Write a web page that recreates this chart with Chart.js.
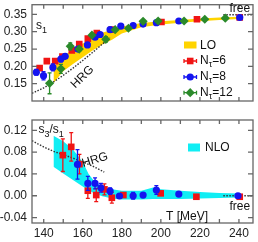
<!DOCTYPE html>
<html>
<head>
<meta charset="utf-8">
<script src="https://cdn.jsdelivr.net/npm/chart.js@4.4.1/dist/chart.umd.min.js"></script>
<style>
  html, body { margin: 0; padding: 0; background: #fff; }
  #wrap { position: relative; width: 258px; height: 242px; }
  #wrap canvas { position: absolute; left: 0; top: 0; }
</style>
</head>
<body>
<div id="wrap">
  <canvas id="topChart" width="258" height="242"></canvas>
  <canvas id="bottomChart" width="258" height="242"></canvas>
</div>
<script>
// --- axes ---
const xTickLabels = [140, 160, 180, 200, 220, 240];
const xMinorTicks = [140, 150, 160, 170, 180, 190, 200, 210, 220, 230, 240];
const s1Ticks = [0.15, 0.20, 0.25, 0.30, 0.35];
const ratioTicks = [-0.04, 0.00, 0.04, 0.08, 0.12];

// --- top panel: s1 ---
const tN6 = [137.9, 141.6, 145.9, 149.6, 154.4, 158.2, 162.6, 167.2, 174.9, 200.3, 218.5, 240.4];
const s1N6 = [0.195, 0.215, 0.215, 0.228, 0.246, 0.264, 0.280, 0.296, 0.306, 0.328, 0.336, 0.341];
const s1N6err = [0.006, 0.004, 0.004, 0.004, 0.005, 0.004, 0.004, 0.004, 0.004, 0.003, 0.003, 0.003];

const tN8 = [136.2, 139.9, 144.7, 148.8, 151.0, 157.5, 162.4, 166.3, 168.9, 174.0, 179.5, 185.8, 190.9, 197.7, 209.2, 240.4];
const s1N8 = [0.183, 0.173, 0.197, 0.221, 0.229, 0.250, 0.262, 0.284, 0.292, 0.306, 0.316, 0.318, 0.322, 0.326, 0.331, 0.341];
const s1N8err = [0.008, 0.012, 0.010, 0.008, 0.006, 0.005, 0.004, 0.004, 0.004, 0.003, 0.003, 0.003, 0.003, 0.003, 0.003, 0.003];

const tN12 = [143.0, 148.8, 153.6, 158.2, 164.7, 171.8, 176.6, 183.4, 190.9, 198.6, 211.9, 222.5, 233.0];
const s1N12 = [0.151, 0.193, 0.258, 0.250, 0.290, 0.278, 0.306, 0.310, 0.330, 0.331, 0.331, 0.336, 0.339];
const s1N12err = [0.030, 0.013, 0.010, 0.006, 0.005, 0.008, 0.004, 0.004, 0.004, 0.003, 0.003, 0.003, 0.003];

const loT = [145, 150, 155, 160, 165, 170, 175, 180, 190, 200, 210, 220, 230, 240];
const loUpper = [0.198, 0.228, 0.250, 0.266, 0.283, 0.297, 0.306, 0.315, 0.325, 0.330, 0.334, 0.338, 0.341, 0.343];
const loLower = [0.152, 0.186, 0.207, 0.226, 0.246, 0.263, 0.277, 0.295, 0.313, 0.321, 0.326, 0.330, 0.334, 0.337];

const hrgT1 = [134, 140, 145, 150, 155, 160, 165, 170, 174];
const hrgS1 = [0.122, 0.138, 0.155, 0.174, 0.195, 0.217, 0.240, 0.264, 0.283];

const freeT = [232, 247.2];
const freeS1 = [0.349, 0.349];
const freeRatio = [0, 0];

// --- bottom panel: s3/s1 ---
const tN6b = [149.8, 154.1, 158.3, 162.6, 166.9, 171.1, 174.9, 180.8, 199.9, 218.2, 240.4];
const ratioN6 = [0.0745, 0.0897, 0.058, 0.0092, 0.0013, 0.0117, -0.0037, 0.0013, 0.0044, -0.0018, -0.0018];
const ratioN6err = [0.030, 0.026, 0.018, 0.014, 0.012, 0.010, 0.010, 0.004, 0.003, 0.003, 0.002];

const tN8b = [157.3, 162.6, 166.3, 169.3, 174.0, 178.8, 185.8, 190.9, 197.7, 209.2, 239.5];
const ratioN8 = [0.0575, 0.0227, 0.0227, 0.0147, 0.0086, -0.0005, 0.0, 0.0013, 0.0104, 0.0031, 0.0];
const ratioN8err = [0.027, 0.013, 0.010, 0.008, 0.006, 0.004, 0.006, 0.004, 0.008, 0.004, 0.003];

const nloT = [145, 150, 155, 160, 163, 166, 170, 175, 180, 190, 196, 200, 210, 220, 230, 240];
const nloUpper = [0.110, 0.100, 0.085, 0.062, 0.040, 0.026, 0.017, 0.012, 0.009, 0.009, 0.015, 0.012, 0.009, 0.007, 0.005, 0.004];
const nloLower = [0.053, 0.041, 0.029, 0.017, 0.010, 0.004, -0.001, -0.005, -0.007, -0.007, -0.006, -0.006, -0.006, -0.005, -0.004, -0.003];

const hrgT2 = [134, 140, 145, 150, 155, 160, 165, 171];
const hrgRatio = [0.101, 0.0895, 0.0815, 0.0755, 0.069, 0.062, 0.0545, 0.0435];

const RED = '#f01414', BLUE = '#1414f0', GREEN = '#2a8a2a';
const YELLOW = '#ffd400', CYAN = '#10eef4';
const FONT = '"Liberation Sans", Arial, sans-serif';

const pts = (xs, ys) => xs.map((x, i) => ({ x: x, y: ys[i] }));

function marker(ctx, style, x, y, color) {
    ctx.fillStyle = color;
    ctx.beginPath();
    if (style === 'rect') ctx.rect(x - 3.3, y - 3.3, 6.6, 6.6);
    else if (style === 'circle') ctx.arc(x, y, 3.6, 0, Math.PI * 2);
    else { ctx.moveTo(x, y - 4.6); ctx.lineTo(x + 4.6, y); ctx.lineTo(x, y + 4.6); ctx.lineTo(x - 4.6, y); ctx.closePath(); }
    ctx.fill();
}

// text with subscripts: parts = [[text, sub?], ...]
function subText(ctx, parts, x, y) {
    for (const [txt, sub] of parts) {
        ctx.font = (sub ? '9px ' : '12px ') + FONT;
        ctx.fillText(txt, x, sub ? y + 3.5 : y);
        x += ctx.measureText(txt).width;
    }
}

// error bars are drawn just before their own dataset
const errorBars = {
    id: 'errorBars',
    beforeDatasetDraw(chart, args) {
        const ds = chart.data.datasets[args.index];
        if (!ds.errors) return;
        const ctx = chart.ctx, y = chart.scales.y;
        ctx.save();
        ctx.strokeStyle = ds.backgroundColor;
        ctx.lineWidth = 1.3;
        ctx.beginPath();
        args.meta.data.forEach((p, i) => {
            const v = ds.data[i].y, e = ds.errors[i];
            const y1 = y.getPixelForValue(v + e), y2 = y.getPixelForValue(v - e);
            ctx.moveTo(p.x, y1); ctx.lineTo(p.x, y2);
            ctx.moveTo(p.x - 2, y1); ctx.lineTo(p.x + 2, y1);
            ctx.moveTo(p.x - 2, y2); ctx.lineTo(p.x + 2, y2);
        });
        ctx.stroke();
        ctx.restore();
    }
};

// gnuplot-like frame with inward ticks
const frame = {
    id: 'frame',
    afterDraw(chart, args, opts) {
        const { ctx, chartArea: a } = chart;
        const x = chart.scales.x, y = chart.scales.y;
        ctx.save();
        ctx.strokeStyle = '#666';
        ctx.lineWidth = 1.3;
        ctx.beginPath();
        xMinorTicks.forEach(t => {
            const px = x.getPixelForValue(t);
            ctx.moveTo(px, a.top); ctx.lineTo(px, a.top + 4);
            ctx.moveTo(px, a.bottom); ctx.lineTo(px, a.bottom - 4);
        });
        opts.yTicks.forEach(v => {
            const py = y.getPixelForValue(v);
            ctx.moveTo(a.left, py); ctx.lineTo(a.left + 5, py);
            ctx.moveTo(a.right, py); ctx.lineTo(a.right - 5, py);
        });
        ctx.stroke();
        ctx.strokeRect(a.left, a.top, a.right - a.left, a.bottom - a.top);
        ctx.restore();
    }
};

function yScale(min, max, ticks) {
    return {
        min: min, max: max,
        afterBuildTicks: s => { s.ticks = ticks.map(v => ({ value: v })); },
        afterFit: s => { s.width = 32; s.paddingTop = 0; s.paddingBottom = 0; },
        grid: { display: false, drawTicks: false },
        border: { display: false },
        ticks: { padding: 5, color: '#222', font: { family: FONT, size: 12 },
                 callback: v => v.toFixed(2) }
    };
}

function xScale(show) {
    return {
        type: 'linear', min: 134, max: 247.2, display: show,
        afterBuildTicks: s => { s.ticks = xTickLabels.map(v => ({ value: v })); },
        afterFit: s => { s.height = 19; s.paddingLeft = 0; s.paddingRight = 0; },
        grid: { display: false, drawTicks: false },
        border: { display: false },
        ticks: { padding: 3, color: '#222', font: { family: FONT, size: 12 }, maxRotation: 0 }
    };
}

const common = {
    responsive: false,
    animation: false,
    events: [],
    plugins: { legend: { display: false }, tooltip: { enabled: false } }
};

const lineDs = (xs, ys, extra) => Object.assign({
    data: pts(xs, ys), showLine: true, pointRadius: 0, borderWidth: 0, tension: 0
}, extra);

const scatterDs = (xs, ys, errs, color, style, radius, order) => ({
    data: pts(xs, ys), errors: errs, showLine: false,
    pointStyle: style, pointRadius: radius, borderWidth: 0,
    backgroundColor: color, borderColor: color, order: order
});

// --- top chart ---
new Chart(document.getElementById('topChart'), {
    type: 'line',
    data: {
        datasets: [
            scatterDs(tN12, s1N12, s1N12err, GREEN, 'rectRot', 4.6, 1),
            scatterDs(tN8, s1N8, s1N8err, BLUE, 'circle', 3.6, 2),
            scatterDs(tN6, s1N6, s1N6err, RED, 'rect', 4.7, 3),
            lineDs(hrgT1, hrgS1, { borderWidth: 1.4, borderColor: '#333', borderDash: [1.5, 1.5], order: 4 }),
            lineDs(freeT, freeS1, { borderWidth: 1.4, borderColor: '#333', borderDash: [1.5, 1.5], order: 4 }),
            lineDs(loT, loUpper, { fill: '+1', backgroundColor: YELLOW, order: 5 }),
            lineDs(loT, loLower, { order: 6 })
        ]
    },
    options: Object.assign({}, common, {
        layout: { padding: { left: 0, top: 3, right: 5, bottom: 122 } },
        scales: { x: xScale(false), y: yScale(0.1, 0.378, s1Ticks) },
        plugins: Object.assign({}, common.plugins, { frame: { yTicks: s1Ticks } })
    }),
    plugins: [errorBars, frame, {
        id: 'topText',
        afterDraw(chart) {
            const ctx = chart.ctx;
            ctx.save();
            ctx.fillStyle = '#111';
            ctx.textBaseline = 'alphabetic';
            subText(ctx, [['s', false], ['1', true]], 36, 29);
            ctx.font = '12px ' + FONT;
            ctx.fillText('free', 229.5, 12);
            // HRG label along the curve
            ctx.save();
            ctx.translate(82.5, 77);
            ctx.rotate(-0.78);
            ctx.textAlign = 'center';
            ctx.textBaseline = 'middle';
            ctx.fillText('HRG', 0, 0);
            ctx.restore();
            // legend
            ctx.fillStyle = YELLOW;
            ctx.fillRect(184, 41.5, 12.5, 7);
            ctx.fillStyle = '#111';
            ctx.textBaseline = 'middle';
            ctx.font = '12px ' + FONT;
            ctx.fillText('LO', 200, 45.5);
            const rows = [[RED, 'rect', '6', 61], [BLUE, 'circle', '8', 77], [GREEN, 'diamond', '12', 92.7]];
            rows.forEach(([c, st, n, yy]) => {
                ctx.strokeStyle = c;
                ctx.lineWidth = 1.3;
                ctx.beginPath();
                ctx.moveTo(184, yy); ctx.lineTo(196.5, yy);
                ctx.moveTo(184, yy - 2); ctx.lineTo(184, yy + 2);
                ctx.moveTo(196.5, yy - 2); ctx.lineTo(196.5, yy + 2);
                ctx.stroke();
                marker(ctx, st, 190.2, yy, c);
                ctx.fillStyle = '#111';
                ctx.textBaseline = 'middle';
                subText(ctx, [['N', false], ['\u03c4', true], ['=' + n, false]], 200, yy);
            });
            ctx.restore();
        }
    }]
});

// --- bottom chart ---
new Chart(document.getElementById('bottomChart'), {
    type: 'line',
    data: {
        datasets: [
            scatterDs(tN8b, ratioN8, ratioN8err, BLUE, 'circle', 3.6, 1),
            scatterDs(tN6b, ratioN6, ratioN6err, RED, 'rect', 4.7, 2),
            lineDs(hrgT2, hrgRatio, { borderWidth: 1.4, borderColor: '#333', borderDash: [1.5, 1.5], order: 3 }),
            lineDs(freeT, freeRatio, { borderWidth: 1.4, borderColor: '#333', borderDash: [1.5, 1.5], order: 3 }),
            lineDs(nloT, nloUpper, { fill: '+1', backgroundColor: CYAN, order: 5 }),
            lineDs(nloT, nloLower, { order: 6 })
        ]
    },
    options: Object.assign({}, common, {
        layout: { padding: { left: 0, top: 120, right: 5, bottom: 0 } },
        scales: { x: xScale(true), y: yScale(-0.05, 0.139, ratioTicks) },
        plugins: Object.assign({}, common.plugins, { frame: { yTicks: ratioTicks } })
    }),
    plugins: [errorBars, frame, {
        id: 'bottomText',
        afterDraw(chart) {
            const ctx = chart.ctx;
            ctx.save();
            ctx.fillStyle = '#111';
            ctx.textBaseline = 'alphabetic';
            subText(ctx, [['s', false], ['3', true], ['/s', false], ['1', true]], 38.5, 133);
            ctx.font = '12px ' + FONT;
            ctx.fillText('free', 229.5, 210);
            ctx.fillText('T [MeV]', 166, 220);
            ctx.save();
            ctx.translate(95, 160);
            ctx.rotate(-0.3);
            ctx.textAlign = 'center';
            ctx.textBaseline = 'middle';
            ctx.fillText('HRG', 0, 0);
            ctx.restore();
            ctx.fillStyle = CYAN;
            ctx.fillRect(188, 143.5, 12, 8);
            ctx.fillStyle = '#111';
            ctx.textBaseline = 'middle';
            ctx.fillText('NLO', 205, 147.5);
            ctx.restore();
        }
    }]
});
</script>
</body>
</html>
